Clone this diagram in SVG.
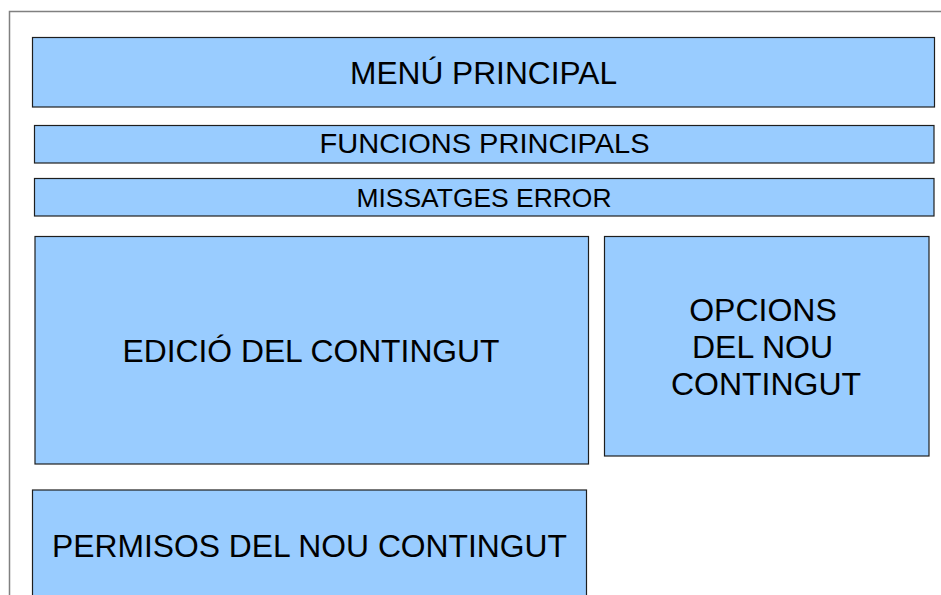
<svg xmlns="http://www.w3.org/2000/svg" width="941" height="595" viewBox="0 0 941 595">
<style>
.box{fill:#99ccff;stroke:#1e1e1e;stroke-width:1.2}
.t{font-family:"Liberation Sans",Arial,sans-serif;fill:#000;text-anchor:middle}
.big{font-size:32px}
</style>
<rect x="0" y="0" width="941" height="595" fill="#ffffff"/>
<rect x="9.5" y="11.5" width="940" height="600" fill="none" stroke="#808080" stroke-width="1.5"/>
<g id="menu-principal">
<rect class="box" x="32.5" y="37.5" width="902" height="69.5"/>
<text class="t big" x="483.5" y="84" textLength="267" lengthAdjust="spacingAndGlyphs">MENÚ PRINCIPAL</text>
</g>
<g id="funcions-principals">
<rect class="box" x="34.5" y="125.5" width="899.5" height="37.5"/>
<text class="t" x="484.5" y="153" font-size="28" textLength="330" lengthAdjust="spacingAndGlyphs">FUNCIONS PRINCIPALS</text>
</g>
<g id="missatges-error">
<rect class="box" x="34.5" y="178.5" width="899.5" height="37.5"/>
<text class="t" x="484" y="206.5" font-size="26" textLength="255" lengthAdjust="spacingAndGlyphs">MISSATGES ERROR</text>
</g>
<g id="edicio-contingut">
<rect class="box" x="35" y="236.5" width="553.5" height="227.5"/>
<text class="t big" x="311" y="361.5" textLength="377" lengthAdjust="spacingAndGlyphs">EDICIÓ DEL CONTINGUT</text>
</g>
<g id="opcions-nou-contingut">
<rect class="box" x="604.5" y="236.5" width="324.5" height="219.5"/>
<text class="t big" x="763" y="321">OPCIONS</text>
<text class="t big" x="762.5" y="358">DEL NOU</text>
<text class="t big" x="766" y="395">CONTINGUT</text>
</g>
<g id="permisos-nou-contingut">
<rect class="box" x="32.5" y="490" width="554" height="120"/>
<text class="t big" x="309.5" y="557" textLength="515" lengthAdjust="spacingAndGlyphs">PERMISOS DEL NOU CONTINGUT</text>
</g>
<g id="connectors"></g>
</svg>
